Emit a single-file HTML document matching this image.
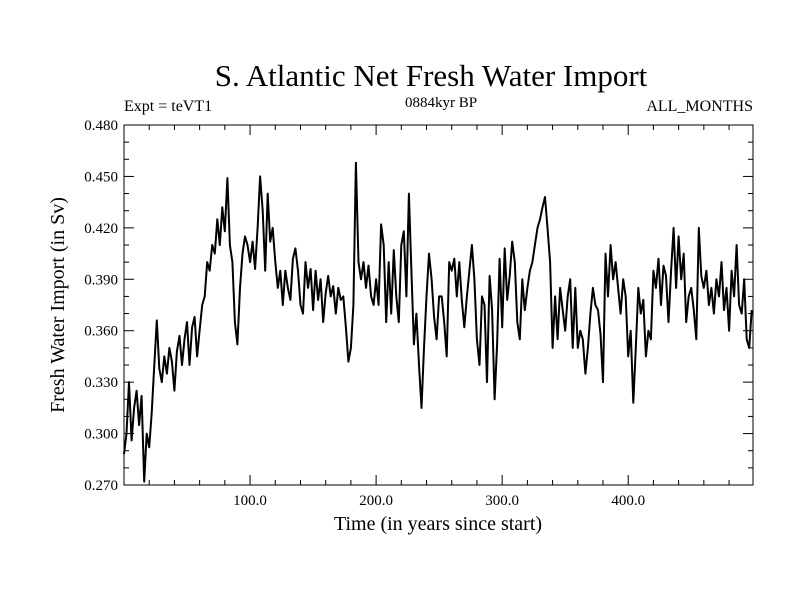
<!DOCTYPE html>
<html><head><meta charset="utf-8">
<style>
body{margin:0;background:#fff;}
svg{display:block;font-family:"Liberation Serif",serif;}
</style></head>
<body>
<svg width="800" height="600" xmlns="http://www.w3.org/2000/svg">
<text x="431" y="86" font-size="31" text-anchor="middle">S. Atlantic Net Fresh Water Import</text>
<text x="124" y="111" font-size="16">Expt = teVT1</text>
<text x="441" y="107" font-size="15" text-anchor="middle">0884kyr BP</text>
<text x="753" y="111" font-size="16" text-anchor="end">ALL_MONTHS</text>
<text x="438" y="530" font-size="20" text-anchor="middle">Time (in years since start)</text>
<text transform="translate(64,305) rotate(-90)" font-size="20" text-anchor="middle">Fresh Water Import (in Sv)</text>
<g id="axes"></g>
<path id="line" fill="none" stroke="#000" stroke-width="2" stroke-linejoin="round"/>
<rect x="124" y="125" width="629" height="360" fill="none" stroke="#000" stroke-width="1"/>
</svg>
<script>
const xTicks=[100,200,300,400];
const xTickLabels=["100.0","200.0","300.0","400.0"];
const yTicks=[0.270,0.300,0.330,0.360,0.390,0.420,0.450,0.480];
const yTickLabels=["0.270","0.300","0.330","0.360","0.390","0.420","0.450","0.480"];
const yearStep=2;
const values=[
0.288,0.300,0.330,0.296,0.315,0.325,0.305,0.322,0.272,0.300,0.292,0.312,0.340,0.366,0.338,0.330,0.345,0.335,0.350,0.342,
0.325,0.348,0.357,0.340,0.355,0.365,0.340,0.362,0.368,0.345,0.360,0.375,0.380,0.400,0.395,0.410,0.405,0.425,0.410,0.432,
0.418,0.449,0.410,0.400,0.365,0.352,0.385,0.405,0.415,0.410,0.400,0.412,0.396,0.420,0.450,0.430,0.395,0.440,0.412,0.420,
0.400,0.385,0.395,0.375,0.395,0.385,0.378,0.402,0.408,0.395,0.375,0.370,0.400,0.385,0.396,0.372,0.395,0.378,0.390,0.365,
0.382,0.392,0.380,0.386,0.370,0.385,0.378,0.380,0.362,0.342,0.350,0.375,0.458,0.400,0.390,0.400,0.385,0.398,0.380,0.375,
0.390,0.375,0.422,0.410,0.365,0.400,0.370,0.407,0.380,0.365,0.410,0.418,0.380,0.440,0.395,0.352,0.370,0.340,0.315,0.350,
0.380,0.405,0.390,0.368,0.355,0.380,0.380,0.365,0.345,0.400,0.395,0.402,0.380,0.400,0.378,0.362,0.380,0.395,0.410,0.390,
0.355,0.340,0.380,0.375,0.330,0.392,0.372,0.320,0.352,0.402,0.362,0.408,0.378,0.392,0.412,0.400,0.365,0.355,0.390,0.372,
0.385,0.395,0.400,0.410,0.420,0.425,0.432,0.438,0.420,0.400,0.350,0.380,0.355,0.385,0.372,0.360,0.380,0.390,0.350,0.385,
0.350,0.360,0.355,0.335,0.350,0.370,0.385,0.375,0.372,0.358,0.330,0.405,0.380,0.410,0.390,0.400,0.385,0.370,0.390,0.380,
0.345,0.360,0.318,0.350,0.385,0.370,0.378,0.345,0.360,0.355,0.395,0.385,0.402,0.375,0.398,0.392,0.365,0.395,0.420,0.385,
0.415,0.390,0.405,0.365,0.380,0.385,0.372,0.355,0.420,0.392,0.385,0.395,0.375,0.385,0.370,0.390,0.380,0.400,0.372,0.385,
0.360,0.395,0.380,0.410,0.375,0.370,0.390,0.355,0.350,0.372
];
const X0=124,X1=753,Y0=485,Y1=125,XMIN=0,XMAX=499,YMIN=0.270,YMAX=0.480;
function sx(v){return X0+(v-XMIN)/(XMAX-XMIN)*(X1-X0);}
function sy(v){return Y0-(v-YMIN)/(YMAX-YMIN)*(Y0-Y1);}
const NS="http://www.w3.org/2000/svg";
const ax=document.getElementById('axes');
function mk(tag,attrs){const e=document.createElementNS(NS,tag);for(const k in attrs)e.setAttribute(k,attrs[k]);ax.appendChild(e);return e;}
for(let t=20;t<XMAX;t+=20){const x=sx(t);const major=t%100===0;const len=major?10:5;
 let a=mk('line',{x1:x,x2:x,y1:Y0,y2:Y0-len,stroke:'#000'});
 
 
 let b=mk('line',{x1:x,x2:x,y1:Y1,y2:Y1+len,stroke:'#000'});
 
 }
xTicks.forEach((t,i)=>{const e=mk('text',{x:sx(t),y:Y0+20,'font-size':15,'text-anchor':'middle'});e.textContent=xTickLabels[i];
 
 });
for(let k=0;k<=21;k++){const v=YMIN+k*0.01;const y=sy(v);const major=k%3===0;const len=major?10:5;
 let a=mk('line',{x1:X0,x2:X0+len,y1:y,y2:y,stroke:'#000'});
 
 
 let b=mk('line',{x1:X1,x2:X1-len,y1:y,y2:y,stroke:'#000'});
 
 }
yTicks.forEach((t,i)=>{const e=mk('text',{x:X0-6,y:sy(t)+5,'font-size':15,'text-anchor':'end'});e.textContent=yTickLabels[i];
 
 });
let d='';values.forEach((v,i)=>{d+=(i?'L':'M')+sx(i*yearStep).toFixed(1)+' '+sy(v).toFixed(1);});
document.getElementById('line').setAttribute('d',d);
</script>
</body></html>
